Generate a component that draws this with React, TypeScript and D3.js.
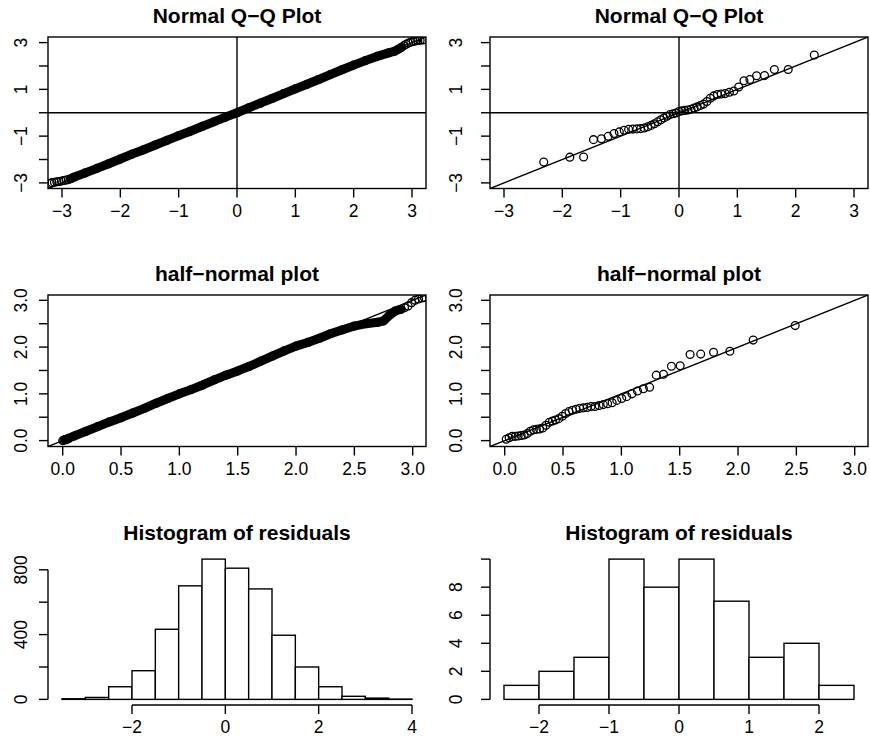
import React from "react";
import * as d3 from "d3";

// ---------- data ----------
// Panel 1: large-sample normal Q-Q (dense band + sparse tails)
const qqBandX = [-2.85, -2.8, -2.6, -2.4, -2.2, -2.0, -1.8, -1.6, -1.4, -1.2, -1.0, -0.8, -0.6, -0.4, -0.2, 0, 0.2, 0.4, 0.6, 0.8, 1.0, 1.2, 1.4, 1.6, 1.8, 2.0, 2.2, 2.4, 2.6, 2.7, 2.76, 2.82];
const qqBandY = [-2.82, -2.76, -2.57, -2.38, -2.18, -1.98, -1.77, -1.58, -1.38, -1.18, -0.98, -0.79, -0.59, -0.39, -0.19, 0.0, 0.21, 0.41, 0.61, 0.82, 1.02, 1.22, 1.42, 1.63, 1.84, 2.04, 2.23, 2.41, 2.56, 2.63, 2.71, 2.8];
const qqTailX = [-3.2, -3.17, -3.13, -3.09, -3.05, -3.01, -2.97, -2.93, -2.89, 2.86, 2.9, 2.94, 2.98, 3.02, 3.06, 3.1, 3.14, 3.18, 3.21];
const qqTailY = [-3.02, -2.99, -2.97, -2.95, -2.94, -2.92, -2.9, -2.88, -2.86, 2.87, 2.93, 2.98, 3.02, 3.05, 3.07, 3.09, 3.1, 3.11, 3.12];

// Panel 2: small-sample normal Q-Q (49 points)
const qqTheo = [-2.319, -1.872, -1.635, -1.466, -1.33, -1.215, -1.114, -1.023, -0.94, -0.864, -0.792, -0.724, -0.658, -0.596, -0.536, -0.478, -0.421, -0.366, -0.311, -0.258, -0.206, -0.154, -0.102, -0.051, 0, 0.051, 0.102, 0.154, 0.206, 0.258, 0.311, 0.366, 0.421, 0.478, 0.536, 0.596, 0.658, 0.724, 0.792, 0.864, 0.94, 1.023, 1.114, 1.215, 1.33, 1.466, 1.635, 1.872, 2.319];
const qqSample = [-2.11, -1.9, -1.89, -1.15, -1.11, -1.01, -0.89, -0.82, -0.75, -0.71, -0.7, -0.69, -0.68, -0.65, -0.6, -0.54, -0.47, -0.39, -0.3, -0.22, -0.15, -0.08, -0.04, -0.01, 0.05, 0.08, 0.1, 0.12, 0.15, 0.2, 0.25, 0.31, 0.37, 0.48, 0.62, 0.72, 0.78, 0.8, 0.82, 0.88, 0.93, 1.1, 1.37, 1.42, 1.58, 1.59, 1.85, 1.85, 2.47];

// Panel 3: large-sample half-normal (dense band + sparse ends)
const hnBandX = [0.02, 0.1, 0.2, 0.3, 0.4, 0.5, 0.6, 0.7, 0.8, 0.9, 1.0, 1.1, 1.2, 1.3, 1.4, 1.5, 1.6, 1.7, 1.8, 1.9, 2.0, 2.1, 2.2, 2.3, 2.4, 2.5, 2.6, 2.7, 2.75, 2.8, 2.85, 2.9];
const hnBandY = [0.02, 0.1, 0.2, 0.3, 0.4, 0.49, 0.59, 0.69, 0.8, 0.9, 1.0, 1.09, 1.19, 1.3, 1.4, 1.49, 1.59, 1.7, 1.81, 1.92, 2.02, 2.1, 2.19, 2.29, 2.37, 2.45, 2.5, 2.53, 2.56, 2.68, 2.77, 2.81];
const hnTailX = [0.0, 0.01, 0.03, 0.05, 2.93, 2.96, 2.99, 3.02, 3.05, 3.08, 3.1];
const hnTailY = [0.0, 0.01, 0.02, 0.04, 2.84, 2.88, 2.95, 3.0, 3.03, 3.05, 3.06];

// Panel 4: small-sample half-normal (49 points)
const hnTheo = [0.013, 0.038, 0.064, 0.09, 0.115, 0.141, 0.167, 0.193, 0.219, 0.246, 0.272, 0.299, 0.326, 0.354, 0.382, 0.41, 0.435, 0.464, 0.493, 0.522, 0.551, 0.581, 0.612, 0.643, 0.674, 0.707, 0.74, 0.774, 0.809, 0.845, 0.882, 0.921, 0.961, 1.003, 1.045, 1.091, 1.138, 1.189, 1.242, 1.299, 1.361, 1.429, 1.504, 1.589, 1.68, 1.79, 1.93, 2.13, 2.49];
const hnAbs = [0.03, 0.06, 0.09, 0.09, 0.1, 0.11, 0.12, 0.15, 0.2, 0.23, 0.24, 0.25, 0.27, 0.33, 0.39, 0.42, 0.44, 0.47, 0.52, 0.58, 0.62, 0.65, 0.67, 0.69, 0.7, 0.71, 0.73, 0.73, 0.75, 0.77, 0.79, 0.81, 0.86, 0.9, 0.94, 1.0, 1.06, 1.11, 1.14, 1.4, 1.42, 1.59, 1.6, 1.84, 1.85, 1.89, 1.91, 2.15, 2.46];

// Panel 5: histogram of residuals (large sample)
const histABreaks = [-3.5, -3.0, -2.5, -2.0, -1.5, -1.0, -0.5, 0, 0.5, 1.0, 1.5, 2.0, 2.5, 3.0, 3.5, 4.0];
const histACounts = [4, 12, 78, 177, 433, 701, 866, 810, 682, 396, 200, 78, 19, 8, 2];

// Panel 6: histogram of residuals (small sample)
const histBBreaks = [-2.5, -2.0, -1.5, -1.0, -0.5, 0, 0.5, 1.0, 1.5, 2.0, 2.5];
const histBCounts = [1, 2, 3, 10, 8, 10, 7, 3, 4, 1];

// Ticks
const qqTicks = [-3, -2, -1, 0, 1, 2, 3];
const qqXLabels = [-3, -2, -1, 0, 1, 2, 3];
const qqYLabels = [-3, -1, 1, 3];
const hnTicks = [0, 0.5, 1.0, 1.5, 2.0, 2.5, 3.0];
const hnXLabels = [0, 0.5, 1.0, 1.5, 2.0, 2.5, 3.0];
const hnYLabels = [0, 1.0, 2.0, 3.0];
const histAXTicks = [-2, 0, 2, 4];
const histAYTicks = [0, 200, 400, 600, 800];
const histAYLabels = [0, 400, 800];
const histBXTicks = [-2, -1, 0, 1, 2];
const histBYTicks = [0, 2, 4, 6, 8, 10];
const histBYLabels = [0, 2, 4, 6, 8];

// ---------- layout ----------
const W = 870;
const H = 747;
const COLX = [48, 490];
const ROWY = [37, 295, 553.5];
const PW = 378;
const PH = 151.5;
const YLABX = [26.5, 462];
const FONT = "'Liberation Sans', Arial, Helvetica, sans-serif";
const LW = 1.4;
const TICK = 9;
const R = 3.9;

const fmt = (v: number, digits = 0) => (v < 0 ? "\u2212" : "") + Math.abs(v).toFixed(digits);

type PanelProps = {
  id: string;
  col: number;
  row: number;
  xd: [number, number];
  yd: [number, number];
  title: string;
  box: boolean;
  xTicks: number[];
  xLabels: number[];
  yTicks: number[];
  yLabels: number[];
  digits: number;
  render: (x: d3.ScaleLinear<number, number>, y: d3.ScaleLinear<number, number>) => React.ReactNode;
};

function Panel(p: PanelProps) {
  const x0 = COLX[p.col];
  const y0 = ROWY[p.row];
  const x = d3.scaleLinear().domain(p.xd).range([x0, x0 + PW]);
  const y = d3.scaleLinear().domain(p.yd).range([y0 + PH, y0]);
  const bottom = y0 + PH;
  const labX = YLABX[p.col];
  return (
    <g>
      <defs>
        <clipPath id={p.id}>
          <rect x={x0} y={y0} width={PW} height={PH} />
        </clipPath>
      </defs>
      <text x={x0 + PW / 2} y={y0 - 14} textAnchor="middle" fontWeight="bold" fontSize={21} fontFamily={FONT}>
        {p.title}
      </text>
      <g clipPath={`url(#${p.id})`}>{p.render(x, y)}</g>
      {p.box ? (
        <rect x={x0} y={y0} width={PW} height={PH} fill="none" stroke="#000" strokeWidth={LW} />
      ) : (
        <g stroke="#000" strokeWidth={LW}>
          <line x1={x(p.xTicks[0])} x2={x(p.xTicks[p.xTicks.length - 1])} y1={bottom} y2={bottom} />
          <line x1={x0} x2={x0} y1={y(p.yTicks[0])} y2={y(p.yTicks[p.yTicks.length - 1])} />
        </g>
      )}
      <g stroke="#000" strokeWidth={LW}>
        {p.xTicks.map((t) => (
          <line key={"xt" + t} x1={x(t)} x2={x(t)} y1={bottom} y2={bottom + TICK} />
        ))}
        {p.yTicks.map((t) => (
          <line key={"yt" + t} x1={x0} x2={x0 - TICK} y1={y(t)} y2={y(t)} />
        ))}
      </g>
      <g fontFamily={FONT} fontSize={17.5} fill="#000">
        {p.xLabels.map((t) => (
          <text key={"xl" + t} x={x(t)} y={bottom + 28} textAnchor="middle">
            {fmt(t, p.digits)}
          </text>
        ))}
        {p.yLabels.map((t) => (
          <text key={"yl" + t} transform={`translate(${labX},${y(t)}) rotate(-90)`} textAnchor="middle">
            {fmt(t, p.digits)}
          </text>
        ))}
      </g>
    </g>
  );
}

function Circles({ xs, ys, x, y }: { xs: number[]; ys: number[]; x: any; y: any }) {
  return (
    <g fill="none" stroke="#000" strokeWidth={1.3}>
      {xs.map((v, i) => (
        <circle key={i} cx={x(v)} cy={y(ys[i])} r={R} />
      ))}
    </g>
  );
}

function Band({ xs, ys, x, y }: { xs: number[]; ys: number[]; x: any; y: any }) {
  const line = d3
    .line<number>()
    .x((v) => x(v))
    .y((_, i) => y(ys[i]));
  return (
    <g>
      <path d={line(xs) || ""} fill="none" stroke="#000" strokeWidth={9} strokeLinecap="round" strokeLinejoin="round" />
      <Circles xs={xs} ys={ys} x={x} y={y} />
    </g>
  );
}

function RefLines({ x, y, d, axes }: { x: any; y: any; d: [number, number]; axes: boolean }) {
  return (
    <g stroke="#000" strokeWidth={LW}>
      <line x1={x(d[0])} y1={y(d[0])} x2={x(d[1])} y2={y(d[1])} />
      {axes && <line x1={x(d[0])} x2={x(d[1])} y1={y(0)} y2={y(0)} />}
      {axes && <line x1={x(0)} x2={x(0)} y1={y(d[0])} y2={y(d[1])} />}
    </g>
  );
}

function Hist({ breaks, counts, x, y }: { breaks: number[]; counts: number[]; x: any; y: any }) {
  return (
    <g fill="#fff" stroke="#000" strokeWidth={LW}>
      {counts.map((c, i) => (
        <rect key={i} x={x(breaks[i])} y={y(c)} width={x(breaks[i + 1]) - x(breaks[i])} height={y(0) - y(c)} />
      ))}
    </g>
  );
}

export default function App() {
  const qqD: [number, number] = [-3.24, 3.24];
  const hnD: [number, number] = [-0.126, 3.114];
  const ext = (a: number, b: number): [number, number] => [a - 0.04 * (b - a), b + 0.04 * (b - a)];
  const maxA = d3.max(histACounts) as number;
  const maxB = 10;
  return (
    <svg width={W} height={H} style={{ position: "absolute", left: 0, top: 0, background: "#fff" }}>
      <rect x={0} y={0} width={W} height={H} fill="#fff" />
      <Panel
        id="c1" col={0} row={0} xd={qqD} yd={qqD} title={"Normal Q\u2212Q Plot"} box
        xTicks={qqTicks} xLabels={qqXLabels} yTicks={qqTicks} yLabels={qqYLabels} digits={0}
        render={(x, y) => (
          <g>
            <Band xs={qqBandX} ys={qqBandY} x={x} y={y} />
            <Circles xs={qqTailX} ys={qqTailY} x={x} y={y} />
            <RefLines x={x} y={y} d={qqD} axes />
          </g>
        )}
      />
      <Panel
        id="c2" col={1} row={0} xd={qqD} yd={qqD} title={"Normal Q\u2212Q Plot"} box
        xTicks={qqTicks} xLabels={qqXLabels} yTicks={qqTicks} yLabels={qqYLabels} digits={0}
        render={(x, y) => (
          <g>
            <Circles xs={qqTheo} ys={qqSample} x={x} y={y} />
            <RefLines x={x} y={y} d={qqD} axes />
          </g>
        )}
      />
      <Panel
        id="c3" col={0} row={1} xd={hnD} yd={hnD} title={"half\u2212normal plot"} box
        xTicks={hnTicks} xLabels={hnXLabels} yTicks={hnTicks} yLabels={hnYLabels} digits={1}
        render={(x, y) => (
          <g>
            <Band xs={hnBandX} ys={hnBandY} x={x} y={y} />
            <Circles xs={hnTailX} ys={hnTailY} x={x} y={y} />
            <RefLines x={x} y={y} d={hnD} axes={false} />
          </g>
        )}
      />
      <Panel
        id="c4" col={1} row={1} xd={hnD} yd={hnD} title={"half\u2212normal plot"} box
        xTicks={hnTicks} xLabels={hnXLabels} yTicks={hnTicks} yLabels={hnYLabels} digits={1}
        render={(x, y) => (
          <g>
            <Circles xs={hnTheo} ys={hnAbs} x={x} y={y} />
            <RefLines x={x} y={y} d={hnD} axes={false} />
          </g>
        )}
      />
      <Panel
        id="c5" col={0} row={2}
        xd={ext(histABreaks[0], histABreaks[histABreaks.length - 1])} yd={ext(0, maxA)}
        title="Histogram of residuals" box={false}
        xTicks={histAXTicks} xLabels={histAXTicks} yTicks={histAYTicks} yLabels={histAYLabels} digits={0}
        render={(x, y) => <Hist breaks={histABreaks} counts={histACounts} x={x} y={y} />}
      />
      <Panel
        id="c6" col={1} row={2}
        xd={ext(histBBreaks[0], histBBreaks[histBBreaks.length - 1])} yd={ext(0, maxB)}
        title="Histogram of residuals" box={false}
        xTicks={histBXTicks} xLabels={histBXTicks} yTicks={histBYTicks} yLabels={histBYLabels} digits={0}
        render={(x, y) => <Hist breaks={histBBreaks} counts={histBCounts} x={x} y={y} />}
      />
    </svg>
  );
}
